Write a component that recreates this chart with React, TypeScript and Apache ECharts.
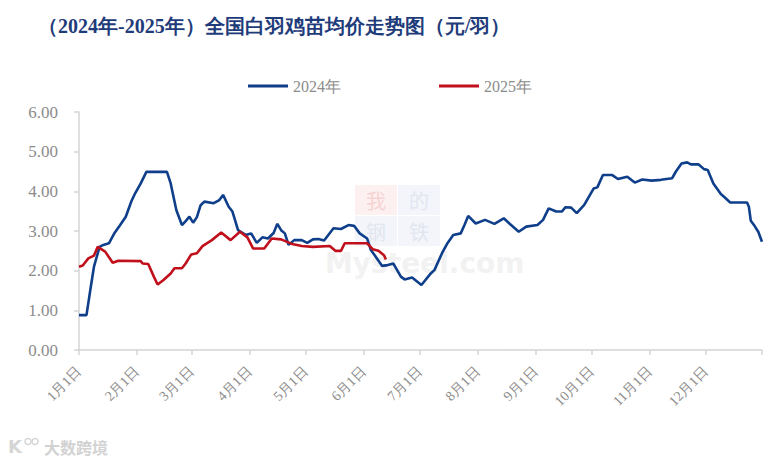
import React, { useEffect, useRef } from "react";
import * as echarts from "echarts";

// ---------- data ----------
const TITLE = "（2024年-2025年）全国白羽鸡苗均价走势图（元/羽）";
const SERIES_NAMES = ["2024年", "2025年"];
const Y_TICKS = ["0.00", "1.00", "2.00", "3.00", "4.00", "5.00", "6.00"];
const MONTH_LENGTHS = [31, 29, 31, 30, 31, 30, 31, 31, 30, 31, 30, 31];

const dates2024 = [
  "01-01", "01-05", "01-07", "01-09", "01-12", "01-14", "01-17", "01-20", "01-23", "01-26",
  "01-29", "01-31", "02-03", "02-06", "02-17", "02-19", "02-22", "02-25", "02-27", "02-29",
  "03-02", "03-04", "03-06", "03-08", "03-13", "03-16", "03-18", "03-21", "03-23", "03-26",
  "03-30", "04-02", "04-05", "04-08", "04-11", "04-14", "04-16", "04-18", "04-20", "04-22",
  "04-25", "04-29", "05-02", "05-05", "05-08", "05-11", "05-16", "05-20", "05-24", "05-27",
  "05-30", "06-03", "06-05", "06-07", "06-11", "06-14", "06-17", "06-21", "06-23", "06-27",
  "07-02", "07-07", "07-09", "07-13", "07-16", "07-19", "07-23", "07-25", "07-27", "07-31",
  "08-05", "08-10", "08-15", "08-18", "08-23", "08-27", "09-02", "09-05", "09-08", "09-12",
  "09-15", "09-17", "09-20", "09-23", "09-27", "10-02", "10-04", "10-07", "10-12", "10-15",
  "10-20", "10-24", "10-28", "11-02", "11-07", "11-13", "11-15", "11-18", "11-21", "11-23",
  "11-27", "11-30", "12-02", "12-05", "12-09", "12-11", "12-14", "12-23", "12-24", "12-25",
  "12-27", "12-29", "12-31",
];
const values2024 = [
  0.88, 0.88, 1.5, 2.1, 2.6, 2.65, 2.69, 2.95, 3.15, 3.36,
  3.75, 3.95, 4.2, 4.49, 4.49, 4.2, 3.53, 3.15, 3.25, 3.36,
  3.21, 3.35, 3.65, 3.74, 3.7, 3.78, 3.91, 3.61, 3.49, 3.02,
  2.9, 2.94, 2.7, 2.84, 2.81, 2.95, 3.18, 3.02, 2.94, 2.65,
  2.77, 2.77, 2.7, 2.79, 2.8, 2.76, 3.07, 3.05, 3.15, 3.13,
  2.94, 2.81, 2.52, 2.39, 2.12, 2.14, 2.18, 1.85, 1.78, 1.83,
  1.64, 1.93, 2.02, 2.44, 2.7, 2.9, 2.94, 3.15, 3.38, 3.19,
  3.28, 3.18, 3.32, 3.19, 2.98, 3.11, 3.15, 3.28, 3.57, 3.49,
  3.49, 3.6, 3.59, 3.45, 3.66, 4.07, 4.1, 4.41, 4.41, 4.31,
  4.37, 4.22, 4.3, 4.27, 4.29, 4.33, 4.5, 4.7, 4.73, 4.68,
  4.68, 4.56, 4.54, 4.2, 3.93, 3.85, 3.72, 3.72, 3.61, 3.26,
  3.13, 2.98, 2.73,
];

const dates2025 = [
  "01-01", "01-03", "01-06", "01-09", "01-11", "01-15", "01-19", "01-22", "02-03", "02-04",
  "02-07", "02-10", "02-12", "02-15", "02-19", "02-21", "02-25", "02-27", "03-01", "03-04",
  "03-07", "03-12", "03-17", "03-22", "03-27", "03-31", "04-03", "04-09", "04-13", "04-18",
  "04-24", "04-29", "05-05", "05-14", "05-17", "05-20", "05-22", "06-03", "06-06", "06-09",
  "06-12", "06-13",
];
const values2025 = [
  2.1, 2.13, 2.31, 2.38, 2.6, 2.48, 2.2, 2.25, 2.24, 2.18,
  2.17, 1.85, 1.65, 1.76, 1.93, 2.06, 2.06, 2.18, 2.41, 2.44,
  2.62, 2.77, 2.96, 2.77, 2.98, 2.84, 2.56, 2.56, 2.81, 2.79,
  2.67, 2.62, 2.6, 2.62, 2.5, 2.5, 2.69, 2.69, 2.54, 2.5,
  2.39, 2.28,
];

// ---------- helpers ----------
const pad = (n: number) => (n < 10 ? "0" + n : "" + n);
const categories: string[] = [];
MONTH_LENGTHS.forEach((len, m) => {
  for (let d = 1; d <= len; d++) categories.push(pad(m + 1) + "-" + pad(d));
});
const buildSeries = (dates: string[], vals: number[]) => {
  const map: Record<string, number> = {};
  dates.forEach((d, i) => (map[d] = vals[i]));
  return categories.map((c) => (c in map ? map[c] : null));
};
const toLabel = (c: string) => {
  const [m, d] = c.split("-");
  return parseInt(m, 10) + "月" + parseInt(d, 10) + "日";
};

const SERIF = "'Liberation Serif', 'Times New Roman', serif";
const GRAY = "#8c8c8c";
const AXIS = "#d4d4d4";

export default function App() {
  const ref = useRef<HTMLDivElement>(null);
  useEffect(() => {
    if (!ref.current) return;
    const chart = echarts.init(ref.current, null, { renderer: "svg" });
    const option: any = {
      animation: false,
      backgroundColor: "#ffffff",
      textStyle: { fontFamily: SERIF },
      title: {
        text: TITLE,
        left: 33,
        top: 11,
        textStyle: {
          fontFamily: SERIF,
          fontWeight: "bold",
          fontSize: 20,
          color: "#1f3c7a",
        },
      },
      legend: {
        left: 243,
        top: 73,
        icon: "rect",
        itemWidth: 40,
        itemHeight: 3,
        itemGap: 98,
        textStyle: { fontFamily: SERIF, fontSize: 16, color: GRAY },
        data: SERIES_NAMES,
      },
      grid: { left: 79, right: 22, top: 112, bottom: 113, containLabel: false },
      xAxis: {
        type: "category",
        boundaryGap: false,
        data: categories,
        axisLine: { lineStyle: { color: AXIS, width: 1.5 } },
        axisTick: {
          length: 5,
          lineStyle: { color: AXIS, width: 1.5 },
          interval: (i: number, v: string) => v.endsWith("-01") || i === categories.length - 1,
        },
        axisLabel: {
          interval: (_i: number, v: string) => v.endsWith("-01"),
          rotate: 45,
          margin: 19,
          fontFamily: SERIF,
          fontSize: 14,
          color: GRAY,
          formatter: (v: string) => toLabel(v),
        },
        splitLine: { show: false },
      },
      yAxis: {
        type: "value",
        min: 0,
        max: 6,
        interval: 1,
        axisLine: { show: true, lineStyle: { color: AXIS, width: 1.5 } },
        axisTick: { show: true, length: 5, lineStyle: { color: AXIS, width: 1.5 } },
        axisLabel: {
          margin: 21,
          fontFamily: SERIF,
          fontSize: 17,
          color: GRAY,
          formatter: (v: number) => Y_TICKS[Math.round(v)] ?? v.toFixed(2),
        },
        splitLine: { show: false },
      },
      graphic: [
        {
          type: "group",
          left: 355,
          top: 185,
          silent: true,
          z: -10,
          children: [
            { type: "rect", shape: { x: 0, y: 0, width: 42, height: 30 }, style: { fill: "#fdf0f0" } },
            { type: "rect", shape: { x: 43, y: 0, width: 42, height: 30 }, style: { fill: "#f3f5fa" } },
            { type: "rect", shape: { x: 0, y: 31, width: 42, height: 30 }, style: { fill: "#f3f5fa" } },
            { type: "rect", shape: { x: 43, y: 31, width: 42, height: 30 }, style: { fill: "#f3f5fa" } },
            { type: "text", x: 21, y: 15, style: { text: "我", fill: "#f6d3d3", font: "20px 'Noto Sans CJK SC'", align: "center", verticalAlign: "middle" } },
            { type: "text", x: 64, y: 15, style: { text: "的", fill: "#e2e6f0", font: "20px 'Noto Sans CJK SC'", align: "center", verticalAlign: "middle" } },
            { type: "text", x: 21, y: 46, style: { text: "钢", fill: "#e2e6f0", font: "20px 'Noto Sans CJK SC'", align: "center", verticalAlign: "middle" } },
            { type: "text", x: 64, y: 46, style: { text: "铁", fill: "#e2e6f0", font: "20px 'Noto Sans CJK SC'", align: "center", verticalAlign: "middle" } },
          ],
        },
        {
          type: "text",
          left: 325,
          top: 249,
          silent: true,
          z: -10,
          style: { text: "Mysteel.com", fill: "#f2f2f2", font: "bold 28px 'DejaVu Sans'" },
        },
        {
          type: "group",
          left: 8,
          top: 436,
          silent: true,
          children: [
            { type: "text", x: 0, y: 0, style: { text: "K", fill: "#d6d6d6", font: "bold 18px 'DejaVu Sans'" } },
            { type: "circle", shape: { cx: 20, cy: 4, r: 3 }, style: { fill: "none", stroke: "#d6d6d6", lineWidth: 1.5 } },
            { type: "circle", shape: { cx: 27, cy: 4, r: 3 }, style: { fill: "none", stroke: "#d6d6d6", lineWidth: 1.5 } },
            { type: "text", x: 36, y: 1, style: { text: "大数跨境", fill: "#d2d2d2", font: "bold 16px 'Noto Sans CJK SC'" } },
          ],
        },
      ],
      series: [
        {
          name: SERIES_NAMES[0],
          type: "line",
          data: buildSeries(dates2024, values2024),
          connectNulls: true,
          symbol: "none",
          showSymbol: false,
          lineStyle: { color: "#0f3f8a", width: 2.6 },
          itemStyle: { color: "#0f3f8a" },
          z: 3,
        },
        {
          name: SERIES_NAMES[1],
          type: "line",
          data: buildSeries(dates2025, values2025),
          connectNulls: true,
          symbol: "none",
          showSymbol: false,
          lineStyle: { color: "#c0101b", width: 2.6 },
          itemStyle: { color: "#c0101b" },
          z: 4,
        },
      ],
    };
    chart.setOption(option);
    return () => chart.dispose();
  }, []);
  return (
    <div
      ref={ref}
      style={{ position: "fixed", left: 0, top: 0, width: 784, height: 463, background: "#fff" }}
    />
  );
}
